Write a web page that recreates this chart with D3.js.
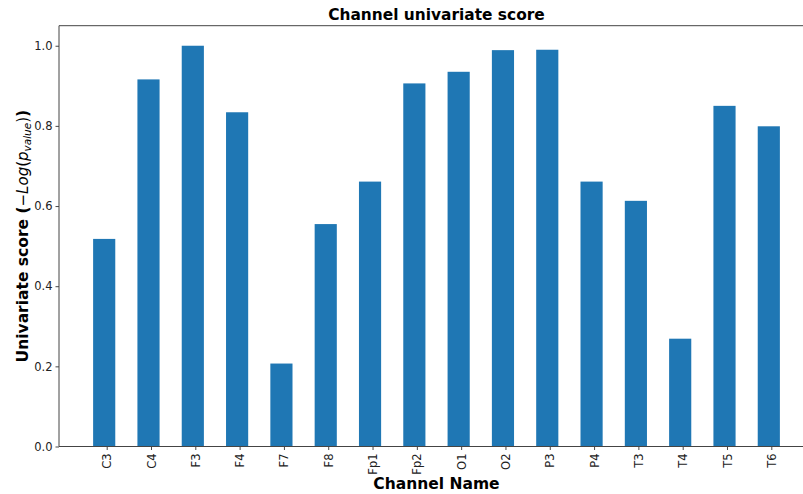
<!DOCTYPE html>
<html>
<head>
<meta charset="utf-8">
<script src="https://cdn.jsdelivr.net/npm/d3@7"></script>
<style>
  html, body { margin: 0; padding: 0; background: #fff; }
  svg { display: block; font-family: "DejaVu Sans", sans-serif; }
</style>
</head>
<body>
<svg id="chart" width="803" height="494"></svg>
<script>
// Channel names (x categories)
const channels = ["C3", "C4", "F3", "F4", "F7", "F8", "Fp1", "Fp2",
                  "O1", "O2", "P3", "P4", "T3", "T4", "T5", "T6"];
// Univariate score per channel
const scores = [0.518, 0.916, 1.0, 0.834, 0.207, 0.555, 0.661, 0.906,
                0.935, 0.989, 0.990, 0.661, 0.613, 0.269, 0.850, 0.799];
// Y axis tick values
const yTicks = [0.0, 0.2, 0.4, 0.6, 0.8, 1.0];

const data = channels.map((c, i) => ({ channel: c, value: scores[i] }));

const svg = d3.select("#chart");
const W = 803, H = 494;
const plotLeft = 59, plotRight = 814, plotTop = 25.7, plotBottom = 446.5;

svg.append("rect").attr("width", W).attr("height", H).attr("fill", "#fff");

const x = d3.scaleBand()
  .domain(channels)
  .range([plotLeft, plotRight])
  .paddingInner(0.5)
  .paddingOuter(0.77);

const y = d3.scaleLinear().domain([0, 1.05]).range([plotBottom, plotTop]);

// Bars
svg.append("g")
  .selectAll("rect")
  .data(data)
  .join("rect")
  .attr("x", d => x(d.channel))
  .attr("y", d => y(d.value))
  .attr("width", x.bandwidth())
  .attr("height", d => y(0) - y(d.value))
  .attr("fill", "#1f77b4");

// Y axis
const yAxis = svg.append("g")
  .attr("transform", `translate(${plotLeft},0)`)
  .call(d3.axisLeft(y).tickValues(yTicks).tickFormat(d3.format(".1f")).tickSize(3.5).tickPadding(3));
yAxis.select(".domain").remove();
yAxis.selectAll("line").attr("stroke", "#333").attr("stroke-width", 0.9);
yAxis.selectAll("text")
  .attr("font-family", "DejaVu Sans, sans-serif")
  .attr("font-size", 11.5)
  .attr("fill", "#222");

// X axis
const xAxis = svg.append("g")
  .attr("transform", `translate(3,${plotBottom})`)
  .call(d3.axisBottom(x).tickSize(3.5).tickPadding(3));
xAxis.select(".domain").remove();
xAxis.selectAll("line").attr("stroke", "#333").attr("stroke-width", 0.9);
xAxis.selectAll("text")
  .attr("font-family", "DejaVu Sans, sans-serif")
  .attr("font-size", 11.5)
  .attr("fill", "#222")
  .attr("transform", "rotate(-90)")
  .attr("text-anchor", "end")
  .attr("dy", "0.35em")
  .attr("x", -7)
  .attr("y", 0);

// Frame: left, top and bottom spines
const spine = svg.append("g").attr("stroke", "#444").attr("stroke-width", 1).attr("fill", "none");
spine.append("line").attr("x1", plotLeft).attr("x2", plotLeft).attr("y1", plotTop).attr("y2", plotBottom);
spine.append("line").attr("x1", plotLeft).attr("x2", plotRight).attr("y1", plotTop).attr("y2", plotTop);
spine.append("line").attr("x1", plotLeft).attr("x2", plotRight).attr("y1", plotBottom).attr("y2", plotBottom);

// Title
svg.append("text")
  .attr("x", (plotLeft + plotRight) / 2)
  .attr("y", 20)
  .attr("text-anchor", "middle")
  .attr("font-size", 15.4)
  .attr("font-weight", "bold")
  .attr("fill", "#000")
  .text("Channel univariate score");

// X label
svg.append("text")
  .attr("x", (plotLeft + plotRight) / 2)
  .attr("y", 489)
  .attr("text-anchor", "middle")
  .attr("font-size", 15.5)
  .attr("font-weight", "bold")
  .attr("fill", "#000")
  .text("Channel Name");

// Y label with math-style part
const yl = svg.append("text")
  .attr("transform", `translate(28,${(plotTop + plotBottom) / 2}) rotate(-90)`)
  .attr("text-anchor", "middle")
  .attr("font-size", 15.5)
  .attr("fill", "#000");
yl.append("tspan").attr("font-weight", "bold").text("Univariate score (");
yl.append("tspan").attr("font-size", 15).text("\u2212");
yl.append("tspan").attr("font-size", 15).attr("font-style", "italic").text("Log");
yl.append("tspan").attr("font-size", 15).text("(");
yl.append("tspan").attr("font-size", 15).attr("font-style", "italic").text("p");
yl.append("tspan").attr("font-size", 10.5).attr("font-style", "italic").attr("dy", 3).text("value");
yl.append("tspan").attr("font-size", 15).attr("dy", -3).text(")");
yl.append("tspan").attr("font-weight", "bold").text(")");
</script>
</body>
</html>
